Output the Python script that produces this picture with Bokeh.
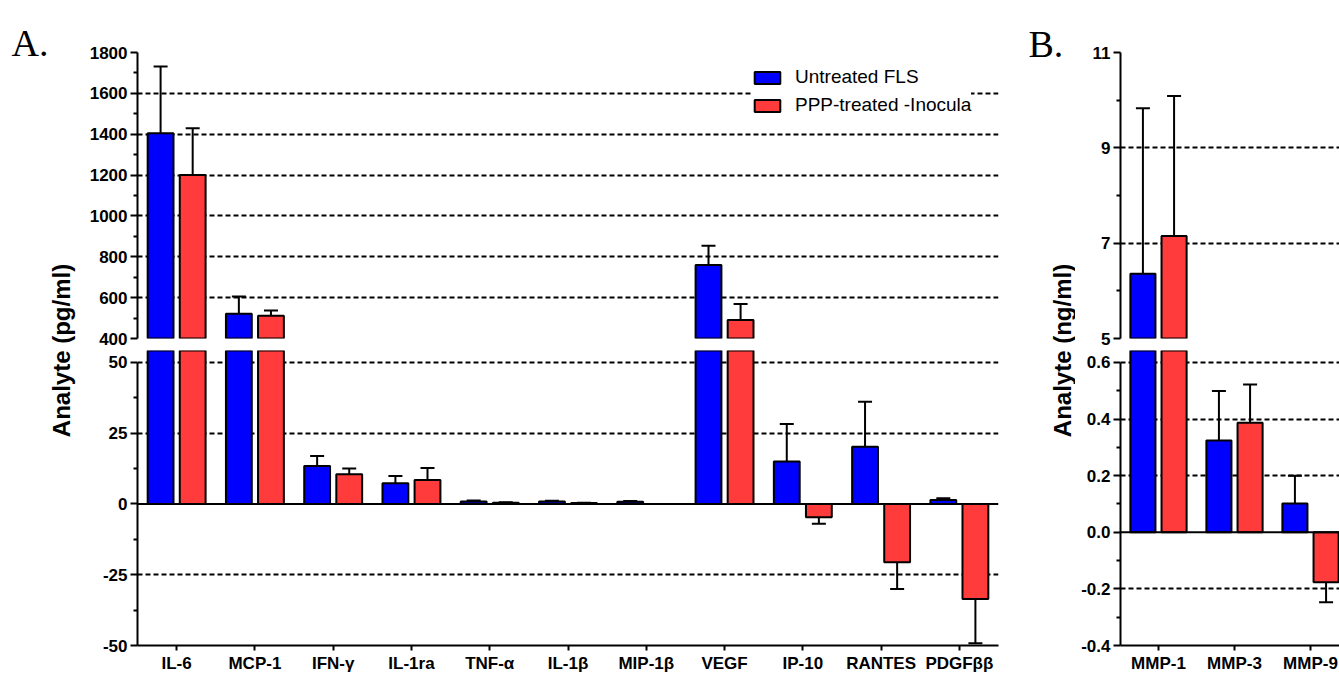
import numpy as np
from bokeh.plotting import figure
from bokeh.models import (ColumnDataSource, FactorRange, Range1d, FixedTicker, Span,
                          Legend, LegendItem, Label, PrintfTickFormatter, CDSView, BooleanFilter)
from bokeh.transform import dodge
from bokeh.layouts import row, column
from bokeh.embed import file_html
from bokeh.resources import INLINE

# ---------------- data ----------------
cats_a = ["IL-6", "MCP-1", "IFN-γ", "IL-1ra", "TNF-α", "IL-1β", "MIP-1β",
          "VEGF", "IP-10", "RANTES", "PDGFββ"]
untreated_a = [1405, 521, 13.4, 7.3, 0.9, 0.9, 0.8, 760, 15.0, 20.2, 1.4]
untreated_a_err = [326, 85, 3.5, 2.6, 0.3, 0.2, 0.2, 94, 13.2, 15.9, 0.6]
ppp_a = [1200, 511, 10.5, 8.5, 0.4, 0.3, 0.0, 491, -4.7, -20.6, -33.6]
ppp_a_err = [229, 26, 2.0, 4.2, 0.2, 0.1, 0.0, 78, 2.3, 9.4, 15.6]

cats_b = ["MMP-1", "MMP-3", "MMP-9"]
untreated_b = [6.36, 0.324, 0.102]
untreated_b_err = [3.47, 0.175, 0.098]
ppp_b = [7.15, 0.387, -0.177]
ppp_b_err = [2.94, 0.135, 0.070]

series_names = ["Untreated FLS", "PPP-treated -Inocula"]
y_title_a = "Analyte (pg/ml)"
y_title_b = "Analyte (ng/ml)"

a_top_ticks = [400, 600, 800, 1000, 1200, 1400, 1600, 1800]
a_bot_ticks = [-50, -25, 0, 25, 50]
b_top_ticks = [5, 7, 9, 11]
b_bot_ticks = [-0.4, -0.2, 0.0, 0.2, 0.4, 0.6]

# ---------------- style ----------------
FONT = "Liberation Sans"
BLUE = "#0000FF"
RED = "#FF3B3B"
OFF = 0.205
BW = 0.33
H_TOTAL = 675
H_TOP = 349
H_BOT = H_TOTAL - H_TOP


def midpoints(t):
    return [(a + b) / 2 for a, b in zip(t[:-1], t[1:])]


def make_source(x, blue, blue_err, red, red_err):
    blue = np.array(blue, dtype=float)
    red = np.array(red, dtype=float)
    be = blue + np.sign(blue) * np.array(blue_err)
    re = red + np.sign(red) * np.array(red_err)
    return ColumnDataSource(dict(x=x, blue=blue, red=red, blue_end=be, red_end=re))


def draw(p, src, rng, cap, lo=None):
    rends = []
    for field, color, off in (("blue", BLUE, -OFF), ("red", RED, OFF)):
        xd = dodge("x", off, range=rng)
        kw = {}
        if lo is not None:
            kw["view"] = CDSView(filter=BooleanFilter([bool(v > lo) for v in src.data[field]]))
        r = p.vbar(x=xd, top=field, bottom=0, width=BW, fill_color=color,
                   line_color="black", line_width=2, source=src, **kw)
        p.segment(x0=xd, y0=field, x1=xd, y1=field + "_end", line_color="black",
                  line_width=2, source=src, **kw)
        p.scatter(x=xd, y=field + "_end", marker="dash", size=cap, line_color="black",
                  line_width=2, source=src, **kw)
        rends.append(r)
    return rends


def style_common(p, ticks, grid_ticks, bounds=None, fmt=None):
    p.outline_line_color = None
    p.xgrid.visible = False
    ax = p.yaxis[0]
    ax.ticker = FixedTicker(ticks=ticks, minor_ticks=midpoints(ticks))
    ax.axis_line_width = 2
    ax.axis_line_color = "black"
    ax.major_tick_line_width = 2
    ax.minor_tick_line_width = 2
    ax.major_tick_out = 7
    ax.major_tick_in = 0
    ax.minor_tick_out = 4
    ax.minor_tick_in = 0
    ax.major_label_text_font = FONT
    ax.major_label_text_font_style = "bold"
    ax.major_label_text_font_size = "17px"
    ax.major_label_text_color = "black"
    ax.major_label_standoff = 3
    if bounds is not None:
        ax.bounds = bounds
    if fmt is not None:
        ax.formatter = PrintfTickFormatter(format=fmt)
    g = p.ygrid[0]
    g.ticker = FixedTicker(ticks=grid_ticks)
    g.grid_line_color = "black"
    g.grid_line_dash = "5 3"
    g.grid_line_width = 2


def style_xaxis(p):
    ax = p.xaxis[0]
    ax.axis_line_width = 2
    ax.axis_line_color = "black"
    ax.major_tick_line_width = 2
    ax.major_tick_out = 5
    ax.major_tick_in = 0
    ax.minor_tick_out = 0
    ax.minor_tick_in = 0
    ax.major_label_text_font = FONT
    ax.major_label_text_font_style = "bold"
    ax.major_label_text_font_size = "17px"
    ax.major_label_text_color = "black"
    ax.major_label_standoff = 3


def label_fig(w, letter, lx, ly, title, tx, ty):
    f = figure(width=w, height=H_TOTAL, x_range=Range1d(0, w), y_range=Range1d(0, H_TOTAL),
               x_axis_type=None, y_axis_type=None, toolbar_location=None,
               output_backend="svg", min_border=0)
    f.outline_line_color = None
    f.add_layout(Label(x=lx, y=ly, text=letter, text_font="Liberation Serif",
                       text_font_size="38px", text_align="left", text_baseline="alphabetic",
                       text_color="black"))
    f.add_layout(Label(x=tx, y=ty, text=title, angle=np.pi / 2, text_align="center",
                       text_baseline="middle", text_font=FONT, text_font_style="bold",
                       text_font_size="24px", text_color="black"))
    return f


# ---------------- panel A ----------------
WA = 914
xr_a = FactorRange(factors=cats_a)
src_a = make_source(cats_a, untreated_a, untreated_a_err, ppp_a, ppp_a_err)

topA = figure(width=WA, height=H_TOP, x_range=xr_a, y_range=Range1d(400, 1800),
              x_axis_location=None, toolbar_location=None, output_backend="svg",
              min_border_left=50, min_border_right=2, min_border_top=52, min_border_bottom=11)
rb, rr = draw(topA, src_a, xr_a, 14, lo=400)
style_common(topA, a_top_ticks, a_top_ticks)

legend = Legend(items=[LegendItem(label=series_names[0], renderers=[rb]),
                       LegendItem(label=series_names[1], renderers=[rr])],
                location=(614, 222), orientation="vertical",
                background_fill_color="white", background_fill_alpha=1.0,
                border_line_color=None, glyph_width=32, glyph_height=15,
                label_standoff=12, spacing=6, padding=5, margin=0,
                label_text_font=FONT, label_text_font_size="19px", label_text_color="black")
topA.add_layout(legend)

botA = figure(width=WA, height=H_BOT, x_range=xr_a, y_range=Range1d(-50, 54.2),
              toolbar_location=None, output_backend="svg",
              min_border_left=50, min_border_right=2, min_border_top=1, min_border_bottom=29)
draw(botA, src_a, xr_a, 14)
style_common(botA, a_bot_ticks, [-25, 25, 50], bounds=(-50, 50), fmt="%d")
style_xaxis(botA)
botA.add_layout(Span(location=0, dimension="width", line_color="black", line_width=2))

# ---------------- panel B ----------------
WB = 264
xb = list(np.arange(len(cats_b)) + 0.5)
xr_b = Range1d(0, 219 / 76)
src_b = make_source(xb, untreated_b, untreated_b_err, ppp_b, ppp_b_err)

topB = figure(width=WB, height=H_TOP, x_range=xr_b, y_range=Range1d(5, 11),
              x_axis_location=None, toolbar_location=None, output_backend="svg",
              min_border_left=45, min_border_right=0, min_border_top=52, min_border_bottom=11)
draw(topB, src_b, None, 14, lo=5)
style_common(topB, b_top_ticks, b_top_ticks)

botB = figure(width=WB, height=H_BOT, x_range=xr_b, y_range=Range1d(-0.4, 0.642),
              toolbar_location=None, output_backend="svg",
              min_border_left=45, min_border_right=0, min_border_top=1, min_border_bottom=29)
draw(botB, src_b, None, 14)
style_common(botB, b_bot_ticks, [-0.2, 0.2, 0.4, 0.6], bounds=(-0.4, 0.6), fmt="%.1f")
style_xaxis(botB)
botB.xaxis[0].ticker = FixedTicker(ticks=xb)
botB.xaxis[0].major_label_overrides = {float(v): c for v, c in zip(xb, cats_b)}
botB.add_layout(Span(location=0, dimension="width", line_color="black", line_width=2))

# ---------------- labels ----------------
figLA = label_fig(86, "A.", 11, H_TOTAL - 42, y_title_a, 61, H_TOTAL - 350)
figLB = label_fig(75, "B.", 28, H_TOTAL - 43, y_title_b, 62, H_TOTAL - 350)

layout = row(figLA, column(topA, botA), figLB, column(topB, botB))

with open("out.html", "w") as fh:
    fh.write(file_html(layout, INLINE))
